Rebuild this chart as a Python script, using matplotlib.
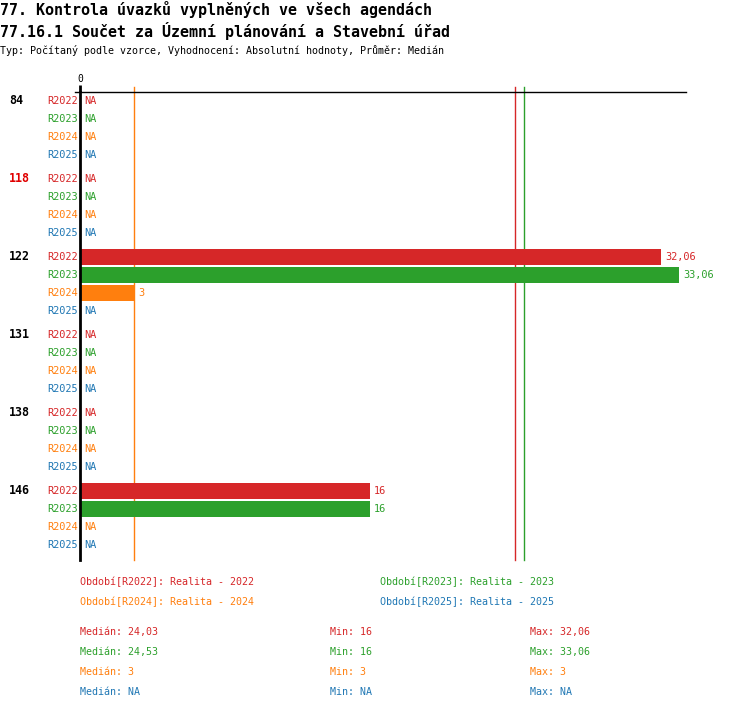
import matplotlib
matplotlib.use("Agg")
import matplotlib.pyplot as plt
from matplotlib.transforms import blended_transform_factory

plt.rcParams['font.family'] = ['DejaVu Sans Mono', 'DejaVu Sans']

title1 = "77. Kontrola úvazků vyplněných ve všech agendách"
title2 = "77.16.1 Součet za Územní plánování a Stavební úřad"
subtitle = "Typ: Počítaný podle vzorce, Vyhodnocení: Absolutní hodnoty, Průměr: Medián"

groups = ["84", "118", "122", "131", "138", "146"]
group_colors = ["black", "#e00000", "black", "black", "black", "black"]
series = ["R2022", "R2023", "R2024", "R2025"]
colors = ["#d62728", "#2ca02c", "#ff7f0e", "#1f77b4"]
legend_labels = ["Období[R2022]: Realita - 2022", "Období[R2023]: Realita - 2023",
                 "Období[R2024]: Realita - 2024", "Období[R2025]: Realita - 2025"]

r2022 = [None, None, 32.06, None, None, 16]
r2023 = [None, None, 33.06, None, None, 16]
r2024 = [None, None, 3, None, None, None]
r2025 = [None, None, None, None, None, None]
values = [r2022, r2023, r2024, r2025]

medians = [24.03, 24.53, 3, None]
mins = [16, 16, 3, None]
maxs = [32.06, 33.06, 3, None]


def fmt(v):
    if v is None:
        return "NA"
    s = ("%.2f" % v).rstrip("0").rstrip(".")
    return s.replace(".", ",")


W, H = 750, 710
fig = plt.figure(figsize=(W / 100, H / 100), dpi=100)
ax_left, ax_right, ax_top, ax_bot = 80, 686, 92, 560
ax = fig.add_axes([ax_left / W, 1 - ax_bot / H, (ax_right - ax_left) / W, (ax_bot - ax_top) / H])

row_step = 18
group_step = 4 * row_step + 6
first = 9
ax.set_ylim(ax_bot - ax_top, 0)
ax.set_xlim(0, 33.45)

# median lines behind bars
for m, c in zip(medians, colors):
    if m is not None:
        ax.axvline(m, ymin=0, ymax=1 + 5 / (ax_bot - ax_top), color=c, lw=1, zorder=1, clip_on=False)

xt = blended_transform_factory(fig.transFigure, ax.transData)
px = 1 / W
for gi, g in enumerate(groups):
    y0 = first + gi * group_step
    fig.text(9 * px, 0, g, transform=xt, fontsize=8.4, fontweight='bold', color=group_colors[gi],
             ha='left', va='center').set_y(y0)
    for si, s in enumerate(series):
        y = y0 + si * row_step
        v = values[si][gi]
        ax.text(-2 * 33.45 / 606, y, s, color=colors[si], fontsize=7.4, ha='right', va='center', clip_on=False)
        if v is None:
            ax.text(4 * 33.45 / 606, y, "NA", color=colors[si], fontsize=7.4, ha='left', va='center')
        else:
            ax.barh(y, v, height=16, color=colors[si], zorder=2)
            ax.text(v + 4 * 33.45 / 606, y, fmt(v), color=colors[si], fontsize=7.4, ha='left', va='center', clip_on=False)

for sp in ['right', 'bottom']:
    ax.spines[sp].set_visible(False)
ax.spines['left'].set_linewidth(2)
ax.spines['top'].set_linewidth(1)
ax.spines['top'].set_bounds(-5 * 33.45 / 606, 33.45)
ax.spines['left'].set_zorder(3)
ax.xaxis.set_ticks_position('top')
ax.set_xticks([0])
ax.set_xticklabels(["0"], fontsize=7)
ax.tick_params(axis='x', length=5, width=2, pad=1, color='black')
ax.set_yticks([])

# titles
fig.text(0, 1 - 9 / H, title1, fontsize=10.8, fontweight='bold', ha='left', va='center')
fig.text(0, 1 - 31 / H, title2, fontsize=10.8, fontweight='bold', ha='left', va='center')
fig.text(0, 1 - 51 / H, subtitle, fontsize=7.2, ha='left', va='center')

# legend
leg_pos = [(80, 582), (380, 582), (80, 602), (380, 602)]
for (lx, ly), lab, c in zip(leg_pos, legend_labels, colors):
    fig.text(lx / W, 1 - ly / H, lab, color=c, fontsize=7.2, ha='left', va='center')

for i, c in enumerate(colors):
    ly = 632 + i * 20
    fig.text(80 / W, 1 - ly / H, "Medián: " + fmt(medians[i]), color=c, fontsize=7.2, ha='left', va='center')
    fig.text(330 / W, 1 - ly / H, "Min: " + fmt(mins[i]), color=c, fontsize=7.2, ha='left', va='center')
    fig.text(530 / W, 1 - ly / H, "Max: " + fmt(maxs[i]), color=c, fontsize=7.2, ha='left', va='center')

fig.savefig("out.png", dpi=100)
